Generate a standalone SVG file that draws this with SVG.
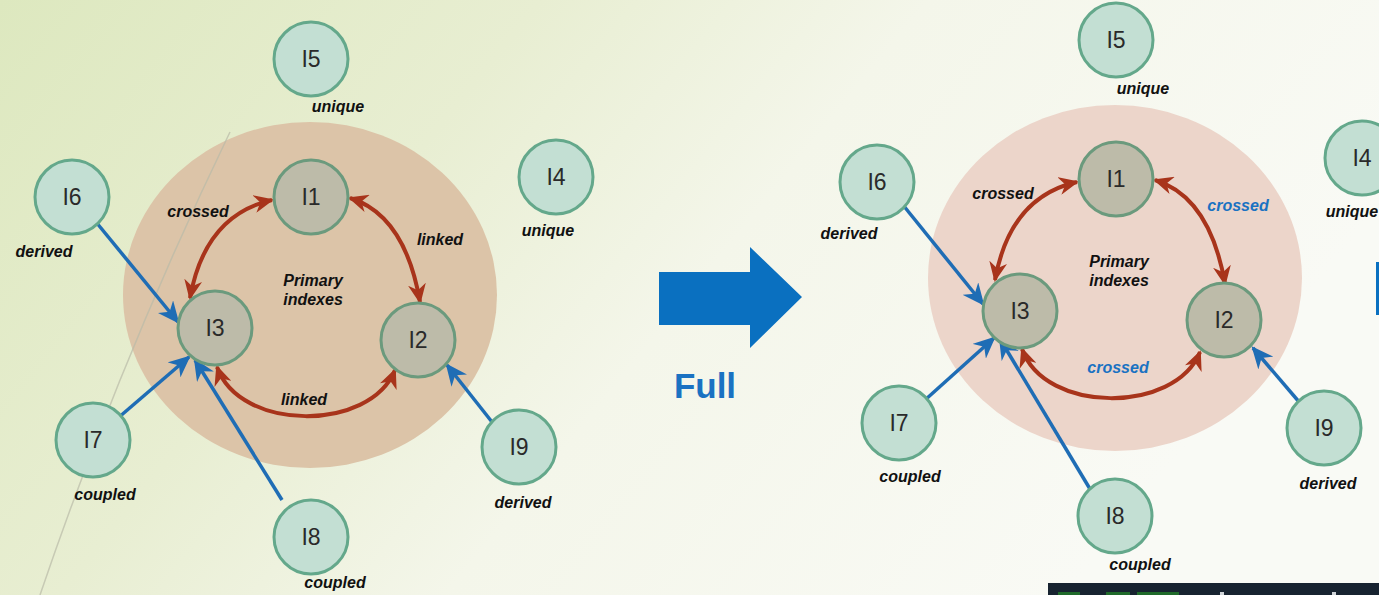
<svg xmlns="http://www.w3.org/2000/svg" width="1379" height="595" viewBox="0 0 1379 595">
  <defs>
    <linearGradient id="bg" x1="0" y1="0" x2="1" y2="0.35">
      <stop offset="0" stop-color="#dde8bf"/>
      <stop offset="0.35" stop-color="#e8eed2"/>
      <stop offset="0.6" stop-color="#f4f6ea"/>
      <stop offset="1" stop-color="#f9faf5"/>
    </linearGradient>
    <marker id="headRed" viewBox="0 0 20 18" refX="18" refY="9" markerWidth="20" markerHeight="18" markerUnits="userSpaceOnUse" orient="auto-start-reverse">
      <path d="M0,0 L20,9 L0,18 L6,9 z" fill="#a8341b"/>
    </marker>
    <marker id="headBlue" viewBox="0 0 20 18" refX="18" refY="9" markerWidth="22" markerHeight="20" markerUnits="userSpaceOnUse" orient="auto">
      <path d="M0,0 L20,9 L0,18 L6,9 z" fill="#1f6db5"/>
    </marker>
  </defs>
  <style>
    .outer { fill: #c3dfd3; stroke: #64a88b; stroke-width: 3; }
    .inner { fill: #bdbba9; stroke: #6b9a7d; stroke-width: 3; }
    .nid { font-family: "Liberation Sans", Arial, sans-serif; font-size: 23px; fill: #2a2a2a; text-anchor: middle; }
    .tag { font-family: "Liberation Sans", Arial, sans-serif; font-size: 16px; font-weight: bold; font-style: italic; fill: #111; text-anchor: middle; }
    .tagBlue { font-family: "Liberation Sans", Arial, sans-serif; font-size: 16px; font-weight: bold; font-style: italic; fill: #1a72c2; text-anchor: middle; }
    .red { fill: none; stroke: #a8341b; stroke-width: 4; marker-start: url(#headRed); marker-end: url(#headRed); }
    .blue { fill: none; stroke: #1f6db5; stroke-width: 3.5; marker-end: url(#headBlue); }
  </style>

  <!-- page background -->
  <rect x="0" y="0" width="1379" height="595" fill="url(#bg)"/>

  <!-- left: partial index set -->
  <g id="left-diagram">
    <ellipse id="left-primary-area" cx="310" cy="295" rx="187" ry="173" fill="#dcc4a8"/>
    <path d="M230,132 Q120,360 40,595" fill="none" stroke="#b9bba8" stroke-width="1.5" stroke-opacity="0.7"/>
    <text class="tag" x="313" y="286">Primary</text>
    <text class="tag" x="313" y="305">indexes</text>

    <g id="left-connectors">
      <path class="red" d="M272,200 Q205,215 190,298"/>
      <path class="red" d="M350,198 Q405,215 420,302"/>
      <path class="red" d="M217,367 C240,432 370,432 395,370"/>
      <path class="blue" d="M96,222 L178,322"/>
      <path class="blue" d="M118,418 L189,357"/>
      <path class="blue" d="M282,500 L195,360"/>
      <path class="blue" d="M492,422 L447,365"/>
      <text class="tag" x="198" y="217">crossed</text>
      <text class="tag" x="440" y="245">linked</text>
      <text class="tag" x="304" y="405">linked</text>
    </g>

    <g id="left-I1"><circle class="inner" cx="311" cy="197" r="37"/><text class="nid" x="311" y="205">I1</text></g>
    <g id="left-I2"><circle class="inner" cx="418" cy="340" r="37"/><text class="nid" x="418" y="348">I2</text></g>
    <g id="left-I3"><circle class="inner" cx="215" cy="328" r="37"/><text class="nid" x="215" y="336">I3</text></g>
    <g id="left-I4"><circle class="outer" cx="556" cy="177" r="37"/><text class="nid" x="556" y="185">I4</text><text class="tag" x="548" y="236">unique</text></g>
    <g id="left-I5"><circle class="outer" cx="311" cy="59" r="37"/><text class="nid" x="311" y="67">I5</text><text class="tag" x="338" y="112">unique</text></g>
    <g id="left-I6"><circle class="outer" cx="72" cy="197" r="37"/><text class="nid" x="72" y="205">I6</text><text class="tag" x="44" y="257">derived</text></g>
    <g id="left-I7"><circle class="outer" cx="93" cy="440" r="37"/><text class="nid" x="93" y="448">I7</text><text class="tag" x="105" y="500">coupled</text></g>
    <g id="left-I8"><circle class="outer" cx="311" cy="537" r="37"/><text class="nid" x="311" y="545">I8</text><text class="tag" x="335" y="588">coupled</text></g>
    <g id="left-I9"><circle class="outer" cx="519" cy="447" r="37"/><text class="nid" x="519" y="455">I9</text><text class="tag" x="523" y="508">derived</text></g>
  </g>

  <!-- transition arrow -->
  <g id="full-arrow">
    <path d="M659,272 L750,272 L750,247 L802,297 L750,348 L750,325 L659,325 z" fill="#0a70c0"/>
    <text x="705" y="398" font-family="Liberation Sans, Arial, sans-serif" font-size="35" font-weight="bold" fill="#1a72c2" text-anchor="middle">Full</text>
  </g>

  <!-- right: full index set -->
  <g id="right-diagram" transform="translate(805,-18)">
    <ellipse id="right-primary-area" cx="310" cy="296" rx="187" ry="173" fill="#ecd5ca"/>
    <text class="tag" x="314" y="285">Primary</text>
    <text class="tag" x="314" y="304">indexes</text>

    <g id="right-connectors">
      <path class="red" d="M272,200 Q205,215 190,298"/>
      <path class="red" d="M350,198 Q405,215 420,302"/>
      <path class="red" d="M217,367 C240,432 370,432 395,370"/>
      <path class="blue" d="M98,223 L178,322"/>
      <path class="blue" d="M120,418 L189,356"/>
      <path class="blue" d="M285,507 L195,357"/>
      <path class="blue" d="M495,421 L448,366"/>
      <text class="tag" x="198" y="217">crossed</text>
      <text class="tagBlue" x="433" y="229">crossed</text>
      <text class="tagBlue" x="313" y="391">crossed</text>
    </g>

    <g id="right-I1"><circle class="inner" cx="311" cy="197" r="37"/><text class="nid" x="311" y="205">I1</text></g>
    <g id="right-I2"><circle class="inner" cx="419" cy="338" r="37"/><text class="nid" x="419" y="346">I2</text></g>
    <g id="right-I3"><circle class="inner" cx="215" cy="329" r="37"/><text class="nid" x="215" y="337">I3</text></g>
    <g id="right-I4"><circle class="outer" cx="557" cy="176" r="37"/><text class="nid" x="557" y="184">I4</text><text class="tag" x="547" y="235">unique</text></g>
    <g id="right-I5"><circle class="outer" cx="311" cy="58" r="37"/><text class="nid" x="311" y="66">I5</text><text class="tag" x="338" y="112">unique</text></g>
    <g id="right-I6"><circle class="outer" cx="72" cy="200" r="37"/><text class="nid" x="72" y="208">I6</text><text class="tag" x="44" y="257">derived</text></g>
    <g id="right-I7"><circle class="outer" cx="94" cy="441" r="37"/><text class="nid" x="94" y="449">I7</text><text class="tag" x="105" y="500">coupled</text></g>
    <g id="right-I8"><circle class="outer" cx="310" cy="534" r="37"/><text class="nid" x="310" y="542">I8</text><text class="tag" x="335" y="588">coupled</text></g>
    <g id="right-I9"><circle class="outer" cx="519" cy="446" r="37"/><text class="nid" x="519" y="454">I9</text><text class="tag" x="523" y="507">derived</text></g>
  </g>

  <!-- edge of the next slide element and the strip below -->
  <rect x="1376" y="262" width="3" height="53" fill="#0a70c0"/>
  <rect x="1048" y="583" width="331" height="12" fill="#172330"/>
  <rect x="1058" y="592" width="22" height="3" fill="#1f6a2a"/>
  <rect x="1106" y="592" width="24" height="3" fill="#1f6a2a"/>
  <rect x="1137" y="592" width="42" height="3" fill="#1f6a2a"/>
  <rect x="1220" y="592" width="4" height="3" fill="#cfd4d8"/>
  <rect x="1332" y="592" width="4" height="3" fill="#cfd4d8"/>
</svg>
